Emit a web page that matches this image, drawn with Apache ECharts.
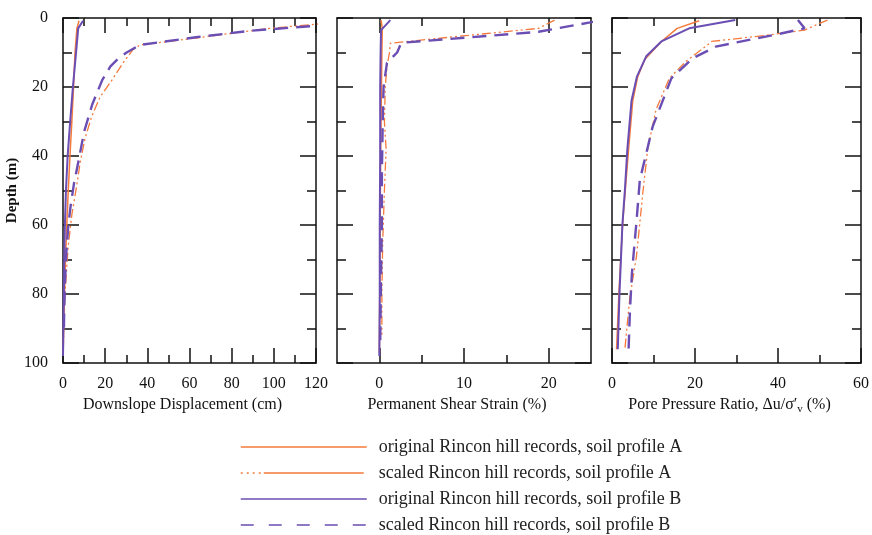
<!DOCTYPE html>
<html>
<head>
<meta charset="utf-8">
<title>Depth profiles – Rincon hill records</title>
<script src="https://cdn.jsdelivr.net/npm/echarts@6/dist/echarts.min.js"></script>
<style>
  html, body { margin: 0; padding: 0; background: #fff; }
  #chart { width: 872px; height: 535px; }
</style>
</head>
<body>
<div id="chart"></div>
<script>
// ---- Series names ----
const seriesNames = [
  'original Rincon hill records, soil profile A',
  'scaled Rincon hill records, soil profile A',
  'original Rincon hill records, soil profile B',
  'scaled Rincon hill records, soil profile B'
];

// ---- Downslope displacement (cm) vs depth (m) ----
const dispOrigADepth = [0.8, 3, 10, 20, 30, 40, 50, 60, 70, 80, 90, 97];
const dispOrigA      = [7.6, 6.6, 5.7, 5.0, 4.2, 3.3, 2.5, 1.8, 1.2, 0.7, 0.3, 0];
const dispScaledADepth = [1.4, 3, 4.5, 6.2, 7.8, 9.3, 13, 18, 23, 28.6, 35, 42, 49, 57, 66, 79, 88, 95];
const dispScaledA      = [127, 98, 79, 58, 36.5, 33, 28.5, 23.2, 17.5, 13.6, 10.4, 8.1, 6.4, 4.2, 2.5, 1.0, 0.4, 0.2];
const dispOrigBDepth = [0.8, 3, 10, 20, 30, 40, 50, 60, 70, 80, 90, 98];
const dispOrigB      = [9.5, 7.2, 6.2, 4.7, 3.4, 2.2, 1.4, 0.9, 0.6, 0.4, 0.2, 0];
const dispScaledBDepth = [1.4, 3.7, 5.5, 7.8, 10, 11.5, 14, 18, 25, 33, 40.7, 48, 55, 61, 68, 76, 84, 91];
const dispScaledB      = [138, 89, 64, 36.5, 30.2, 26.6, 22.5, 18.6, 13.9, 10, 7.6, 5.2, 3.5, 2.4, 1.6, 1.0, 0.6, 0.4];

// ---- Permanent shear strain (%) vs depth (m) ----
const strainOrigADepth = [0.6, 3, 10, 20, 40, 60, 80, 97];
const strainOrigA      = [0.2, 0.35, 0.3, 0.25, 0.15, 0.1, 0.05, 0];
const strainScaledADepth = [0.6, 1.5, 3, 7.3, 10, 14, 20, 30, 38, 50, 65, 80, 92];
const strainScaledA      = [20.7, 20, 18.8, 1.3, 1.2, 0.9, 0.7, 0.6, 0.8, 0.6, 0.4, 0.3, 0.3];
const strainOrigBDepth = [0.6, 3.5, 10, 20, 40, 60, 80, 98];
const strainOrigB      = [1.3, 0.2, 0.15, 0.1, 0.1, 0.05, 0.05, 0];
const strainScaledBDepth = [1, 4, 7.2, 10, 13, 20, 30, 45, 60, 75, 95];
const strainScaledB      = [25.5, 18.8, 2.6, 2.1, 0.9, 0.5, 0.4, 0.3, 0.3, 0.2, 0.1];

// ---- Pore pressure ratio (%) vs depth (m) ----
const poreOrigADepth = [0.8, 3, 6.8, 12, 17, 24, 38, 50, 59, 79, 96];
const poreOrigA      = [21, 15.7, 11.9, 7.9, 6.2, 5.0, 4.0, 3.2, 2.6, 1.7, 1.1];
const poreScaledADepth = [0.6, 3.5, 4.9, 6.8, 8.3, 12.6, 17.5, 26.6, 38, 51, 59.5, 69, 81, 91, 96];
const poreScaledA      = [51.9, 46.4, 38, 24, 22.5, 17.8, 13.8, 10.6, 8.6, 7.4, 6.7, 5.9, 4.3, 3.5, 3.1];
const poreOrigBDepth = [0.6, 3, 6.8, 11, 17, 24, 38, 50, 60, 80, 96];
const poreOrigB      = [29.7, 18.6, 11.9, 8.3, 6.0, 4.7, 3.7, 3.1, 2.5, 1.8, 1.4];
const poreScaledBDepth = [0.6, 3, 4.5, 8.3, 11.7, 17.5, 31.5, 47, 59, 74, 85.5, 96];
const poreScaledB      = [44.8, 46.4, 40.7, 25, 19.4, 14.3, 9.8, 6.7, 5.9, 4.8, 4.3, 4.0];

// ---- Axis ticks and labels ----
const depthMajor = [0, 20, 40, 60, 80, 100];
const depthMinor = [10, 30, 50, 70, 90];
const dispMajor = [0, 20, 40, 60, 80, 100, 120];
const dispMinor = [10, 30, 50, 70, 90, 110];
const strainMajor = [0, 10, 20];
const strainMinor = [5, 15];
const poreMajor = [0, 20, 40, 60];
const poreMinor = [10, 30, 50];

// ---- Styling ----
const FONT = 'Liberation Serif';
const ORANGE = '#F47A3C';
const PURPLE = '#6A4EB3';
const INK = '#111';

const grids = [
  { left: 63,  top: 18, width: 253, height: 345 },
  { left: 337, top: 18, width: 254, height: 345 },
  { left: 612, top: 18, width: 253, height: 345 }
];

function pairs(vals, depths) {
  return vals.map((v, i) => [v, depths[i]]);
}

function tick(len, values) {
  return { show: true, inside: true, length: len, customValues: values, lineStyle: { color: INK, width: 1.5 } };
}

// Four x axes per panel: bottom/top, each with long (major) and short (minor) inward ticks.
function makeXAxes(g, min, max, major, minor, name, rich) {
  const base = {
    gridIndex: g, type: 'value', min, max,
    splitLine: { show: false },
    axisLabel: { show: false }
  };
  const line = { show: true, onZero: false, lineStyle: { color: INK, width: 1.5 } };
  const hidden = { show: false, onZero: false };
  return [
    Object.assign({}, base, {
      position: 'bottom', axisLine: line, axisTick: tick(15, major),
      axisLabel: { show: true, customValues: major, margin: 13, fontFamily: FONT, fontSize: 16, color: INK },
      name, nameLocation: 'middle', nameGap: 31,
      nameTextStyle: { fontFamily: FONT, fontSize: 16, color: INK, padding: [0, 14, 0, 0], rich: rich || {} }
    }),
    Object.assign({}, base, { position: 'bottom', axisLine: hidden, axisTick: tick(8, minor) }),
    Object.assign({}, base, { position: 'top', axisLine: line, axisTick: tick(15, major) }),
    Object.assign({}, base, { position: 'top', axisLine: hidden, axisTick: tick(8, minor) })
  ];
}

// Four depth axes per panel: left/right, long ticks every 20 m, short ticks in between.
function makeYAxes(g, withLabels) {
  const base = {
    gridIndex: g, type: 'value', min: 0, max: 100, inverse: true,
    splitLine: { show: false },
    axisLabel: { show: false }
  };
  const line = { show: true, onZero: false, lineStyle: { color: INK, width: 1.5 } };
  const hidden = { show: false, onZero: false };
  const main = Object.assign({}, base, { position: 'left', axisLine: line, axisTick: tick(16, depthMajor) });
  if (withLabels) {
    main.axisLabel = { show: true, customValues: depthMajor, margin: 15, fontFamily: FONT, fontSize: 16, color: INK };
    main.name = 'Depth (m)';
    main.nameLocation = 'middle';
    main.nameGap = 29;
    main.nameTextStyle = { fontFamily: FONT, fontSize: 15, color: INK, fontWeight: 'bold' };
  }
  return [
    main,
    Object.assign({}, base, { position: 'left', axisLine: hidden, axisTick: tick(9, depthMinor) }),
    Object.assign({}, base, { position: 'right', axisLine: line, axisTick: tick(16, depthMajor) }),
    Object.assign({}, base, { position: 'right', axisLine: hidden, axisTick: tick(9, depthMinor) })
  ];
}

const lineStyles = [
  { color: ORANGE, width: 1.5, type: 'solid' },
  { color: ORANGE, width: 1.3, type: [9, 3, 2, 3, 2, 3] },
  { color: PURPLE, width: 2, type: 'solid' },
  { color: PURPLE, width: 2.4, type: [14, 8] }
];

function panelSeries(g, sets) {
  return sets.map((data, k) => ({
    name: seriesNames[k],
    type: 'line',
    xAxisIndex: g * 4,
    yAxisIndex: g * 4,
    data,
    symbol: 'none',
    clip: false,
    silent: true,
    z: k === 3 ? 4 : 3,
    lineStyle: lineStyles[k],
    itemStyle: { color: lineStyles[k].color }
  }));
}

const xAxis = [].concat(
  makeXAxes(0, 0, 120, dispMajor, dispMinor, 'Downslope Displacement (cm)'),
  makeXAxes(1, -5, 25, strainMajor, strainMinor, 'Permanent Shear Strain (%)'),
  makeXAxes(2, 0, 60, poreMajor, poreMinor, 'Pore Pressure Ratio, \u0394u/\u03c3\u2032{sub|v} (%)',
    { sub: { fontFamily: FONT, fontSize: 11, color: INK, padding: [8, 0, 0, 0] } })
);
const yAxis = [].concat(makeYAxes(0, true), makeYAxes(1, false), makeYAxes(2, false));

const series = [].concat(
  panelSeries(0, [
    pairs(dispOrigA, dispOrigADepth),
    pairs(dispScaledA, dispScaledADepth),
    pairs(dispOrigB, dispOrigBDepth),
    pairs(dispScaledB, dispScaledBDepth)
  ]),
  panelSeries(1, [
    pairs(strainOrigA, strainOrigADepth),
    pairs(strainScaledA, strainScaledADepth),
    pairs(strainOrigB, strainOrigBDepth),
    pairs(strainScaledB, strainScaledBDepth)
  ]),
  panelSeries(2, [
    pairs(poreOrigA, poreOrigADepth),
    pairs(poreScaledA, poreScaledADepth),
    pairs(poreOrigB, poreOrigBDepth),
    pairs(poreScaledB, poreScaledBDepth)
  ])
);

const chart = echarts.init(document.getElementById('chart'), null, { renderer: 'canvas' });
chart.setOption({
  animation: false,
  backgroundColor: '#fff',
  grid: grids,
  xAxis,
  yAxis,
  legend: {
    orient: 'vertical',
    left: 240,
    top: 438,
    height: 120,
    padding: 0,
    itemWidth: 126,
    itemHeight: 18,
    itemGap: 8,
    selectedMode: false,
    itemStyle: { color: 'rgba(0,0,0,0)', borderWidth: 0, opacity: 0 },
    textStyle: { fontFamily: FONT, fontSize: 18, lineHeight: 18, color: '#222', padding: [0, 0, 0, 7] },
    data: [
      { name: seriesNames[0], lineStyle: { width: 1.5, type: 'solid' } },
      { name: seriesNames[1], lineStyle: { width: 1.3, type: [2, 4, 2, 4, 2, 4, 2, 3, 100, 3, 2, 10] } },
      { name: seriesNames[2], lineStyle: { width: 1.5, type: 'solid' } },
      { name: seriesNames[3], lineStyle: { width: 1.5, type: [13, 15] } }
    ]
  },
  series
});
</script>
</body>
</html>
